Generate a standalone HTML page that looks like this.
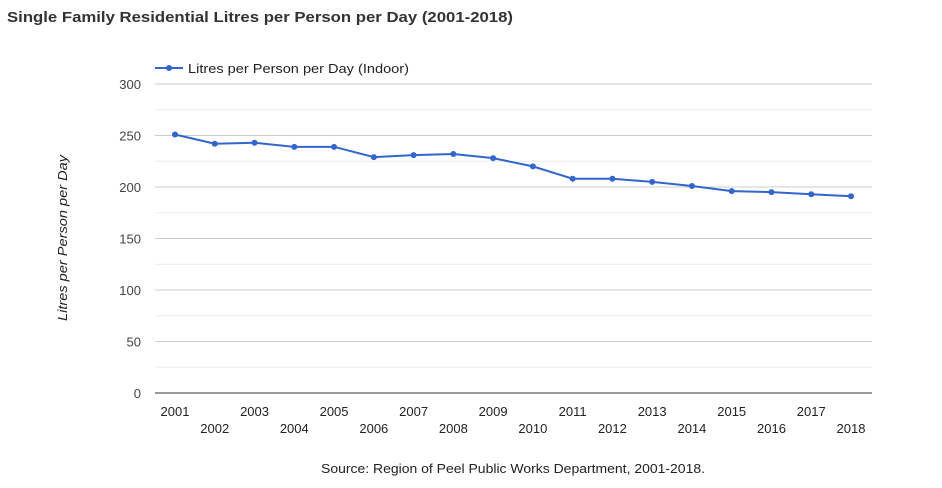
<!DOCTYPE html>
<html><head><meta charset="utf-8"><style>
body{margin:0;background:#fff;font-family:"Liberation Sans",sans-serif}
</style></head><body>
<svg width="942" height="488" style="display:block">
<text x="7" y="22" font-size="15" font-weight="bold" fill="#333" textLength="506" lengthAdjust="spacingAndGlyphs">Single Family Residential Litres per Person per Day (2001-2018)</text>
<g id="grid"></g>
<g id="yt"></g>
<g id="xt"></g>
<line x1="155" x2="872" y1="393" y2="393" stroke="#333"/>
<text transform="translate(67,238) rotate(-90)" text-anchor="middle" font-size="13" font-style="italic" fill="#222" textLength="166" lengthAdjust="spacingAndGlyphs">Litres per Person per Day</text>
<g>
<line x1="155" x2="183" y1="68" y2="68" stroke="#3366cc" stroke-width="2"/>
<circle cx="169" cy="68" r="3" fill="#3366cc"/>
<text x="188" y="73" font-size="13" fill="#222" textLength="221" lengthAdjust="spacingAndGlyphs">Litres per Person per Day (Indoor)</text>
</g>
<path id="line" fill="none" stroke="#3366cc" stroke-width="2"/>
<g id="pts"></g>
<text x="321" y="473" font-size="13" fill="#222" textLength="384" lengthAdjust="spacingAndGlyphs">Source: Region of Peel Public Works Department, 2001-2018.</text>
</svg>
<script>
const years=[2001,2002,2003,2004,2005,2006,2007,2008,2009,2010,2011,2012,2013,2014,2015,2016,2017,2018];
const values=[251,242,243,239,239,229,231,232,228,220,208,208,205,201,196,195,193,191];
const yTicks=[0,50,100,150,200,250,300];
const NS="http://www.w3.org/2000/svg";
const x=i=>175+i*(851-175)/(years.length-1);
const y=v=>393-v*(393-84)/300;
const grid=document.getElementById('grid'),yt=document.getElementById('yt'),xt=document.getElementById('xt'),pts=document.getElementById('pts');
for(let v=25;v<=300;v+=25){const l=document.createElementNS(NS,'line');


l.setAttribute('x1',155);l.setAttribute('x2',872);l.setAttribute('y1',y(v));l.setAttribute('y2',y(v));
l.setAttribute('stroke',v%50?'#ebebeb':'#ccc');grid.appendChild(l);}
yTicks.forEach(v=>{const t=document.createElementNS(NS,'text');


t.setAttribute('x',141);t.setAttribute('y',y(v)+5);t.setAttribute('text-anchor','end');t.setAttribute('font-size','13');t.setAttribute('fill','#444');t.textContent=v;yt.appendChild(t);});
let d='';
years.forEach((yr,i)=>{const t=document.createElementNS(NS,'text');


t.setAttribute('x',x(i));t.setAttribute('y',i%2?433:416);t.setAttribute('text-anchor','middle');t.setAttribute('font-size','13');t.setAttribute('fill','#222');t.textContent=yr;xt.appendChild(t);
d+=(i?'L':'M')+x(i)+','+y(values[i]);
const c=document.createElementNS(NS,'circle');


c.setAttribute('cx',x(i));c.setAttribute('cy',y(values[i]));c.setAttribute('r',3);c.setAttribute('fill','#3366cc');pts.appendChild(c);});
document.getElementById('line').setAttribute('d',d);
</script>
</body></html>
